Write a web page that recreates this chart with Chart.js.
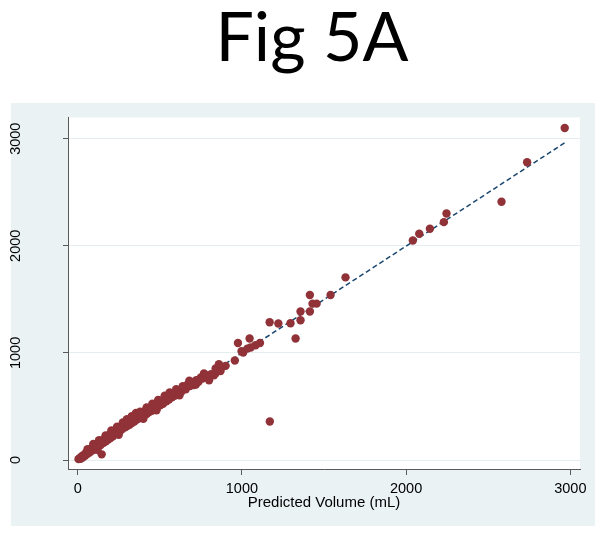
<!DOCTYPE html>
<html>
<head>
<meta charset="utf-8">
<script src="https://cdn.jsdelivr.net/npm/chart.js@4.4.1/dist/chart.umd.min.js"></script>
<style>
html, body { margin: 0; padding: 0; background: #fff; }
#wrap { position: relative; width: 603px; height: 536px; }
#fig-title {
    position: absolute; left: 0; top: 1px; width: 624px;
    text-align: center; font-family: Lato, sans-serif;
    font-size: 68px; line-height: 68px; color: #000;
}
</style>
</head>
<body>
<div id="wrap">
    <canvas id="fig" width="603" height="536"></canvas>
    <div id="fig-title">Fig 5A</div>
</div>
<script>
const predicted = [
    5, 12, 18, 25, 30, 38, 45, 52, 58, 65,
    72, 80, 86, 92, 100, 106, 112, 120, 126, 132,
    140, 146, 152, 158, 165, 172, 180, 186, 193, 200,
    206, 214, 220, 228, 235, 242, 250, 258, 265, 272,
    280, 288, 295, 302, 310, 316, 324, 330, 338, 345,
    352, 360, 368, 375, 382, 390, 398, 405, 412, 420,
    428, 436, 444, 452, 460, 468, 476, 485, 494, 502,
    510, 520, 530, 540, 548, 556, 565, 574, 582, 590,
    600, 610, 620, 632, 645, 658, 670, 684, 698, 708,
    722, 736, 750, 760, 769, 785, 800, 812, 830, 840,
    840, 858, 870, 881, 901, 957, 976, 998, 1008, 1033,
    1047, 1053, 1083, 1110, 1169, 1170, 1222, 1296, 1327, 1357,
    1357, 1414, 1414, 1430, 1455, 1540, 1631, 2041, 2080, 2145,
    2230, 2246, 2581, 2737, 2966,
    60, 95, 130, 170, 205, 240, 275, 300, 330, 355,
    380, 420, 455, 490, 530, 560, 600, 640, 680, 120,
    250, 400, 480, 620, 720, 860, 870
];
const observed = [
    8, 18, 12, 35, 22, 50, 40, 70, 55, 85,
    70, 105, 85, 120, 98, 140, 115, 150, 125, 165,
    140, 53, 185, 160, 200, 175, 218, 190, 235, 205,
    250, 222, 265, 240, 285, 255, 300, 270, 315, 290,
    330, 305, 345, 318, 365, 330, 380, 345, 395, 360,
    405, 378, 420, 390, 432, 402, 448, 418, 460, 430,
    475, 448, 490, 460, 505, 478, 520, 495, 535, 510,
    555, 525, 570, 548, 590, 565, 610, 585, 620, 600,
    640, 615, 655, 640, 680, 660, 705, 690, 725, 700,
    745, 730, 770, 760, 808, 790, 745, 800, 792, 855,
    810, 840, 865, 870, 879, 929, 1093, 1016, 1003, 1040,
    1134, 1050, 1071, 1093, 1286, 360, 1274, 1277, 1134, 1386,
    1305, 1541, 1386, 1460, 1460, 1541, 1705, 2050, 2113, 2159,
    2221, 2302, 2411, 2780, 3100,
    100, 150, 185, 230, 275, 310, 350, 380, 410, 440,
    450, 490, 525, 560, 600, 630, 660, 690, 740, 95,
    235, 385, 465, 605, 705, 895, 830
];
const fitX = [0, 2966];
const fitY = [0, 2962];
const xTicks = [0, 1000, 2000, 3000];
const yTicks = [0, 1000, 2000, 3000];
const xTitle = 'Predicted Volume (mL)';

const maroon = 'rgb(144,50,56)';
const navy = 'rgb(26,71,111)';
const panelColor = '#eaf2f3';
const axisColor = '#5a5a5a';
const labelFont = "'Liberation Sans', Arial, sans-serif";

// light panel behind the plot, white plot region on top of it
const panelBg = {
    id: 'panelBg',
    beforeDraw(chart) {
        const { ctx, chartArea: a } = chart;
        ctx.save();
        ctx.fillStyle = '#fff';
        ctx.fillRect(0, 0, chart.width, chart.height);
        ctx.fillStyle = panelColor;
        ctx.fillRect(11, 103, 584, 423);
        ctx.fillStyle = '#fff';
        ctx.fillRect(a.left, a.top, a.right - a.left, a.bottom - a.top);
        ctx.restore();
    }
};

new Chart(document.getElementById('fig').getContext('2d'), {
    type: 'scatter',
    data: {
        datasets: [
            {
                data: predicted.map((x, i) => ({ x: x, y: observed[i] })),
                backgroundColor: maroon,
                borderWidth: 0,
                pointRadius: 4.2,
                order: 0
            },
            {
                data: fitX.map((x, i) => ({ x: x, y: fitY[i] })),
                showLine: true,
                borderColor: navy,
                borderWidth: 1.5,
                borderDash: [5, 3],
                pointRadius: 0,
                fill: false,
                order: 1
            }
        ]
    },
    options: {
        responsive: false,
        animation: false,
        layout: { padding: { left: 0, right: 23, top: 117.5, bottom: 0 } },
        plugins: {
            legend: { display: false },
            tooltip: { enabled: false },
            title: { display: false }
        },
        scales: {
            x: {
                type: 'linear',
                min: -59,
                max: 3059,
                afterBuildTicks: s => { s.ticks = xTicks.map(v => ({ value: v })); },
                afterFit: s => { s.height = 67; },
                grid: { drawOnChartArea: false, tickLength: 6, tickColor: axisColor },
                border: { color: axisColor, width: 1 },
                ticks: {
                    color: '#000',
                    padding: 5,
                    maxRotation: 0,
                    callback: v => String(v),
                    font: { family: labelFont, size: 14.5 }
                },
                title: {
                    display: true,
                    text: xTitle,
                    color: '#000',
                    font: { family: labelFont, size: 15 },
                    padding: { top: 0, bottom: 24 }
                }
            },
            y: {
                type: 'linear',
                min: -84,
                max: 3198,
                afterBuildTicks: s => { s.ticks = yTicks.map(v => ({ value: v })); },
                afterFit: s => { s.width = 68; },
                grid: { color: '#e4edf0', tickLength: 5, tickColor: axisColor },
                border: { color: axisColor, width: 1 },
                ticks: {
                    color: '#000',
                    minRotation: 90,
                    maxRotation: 90,
                    crossAlign: 'center',
                    padding: 31,
                    callback: v => String(v),
                    font: { family: labelFont, size: 14.5 }
                }
            }
        }
    },
    plugins: [panelBg]
});
</script>
</body>
</html>
